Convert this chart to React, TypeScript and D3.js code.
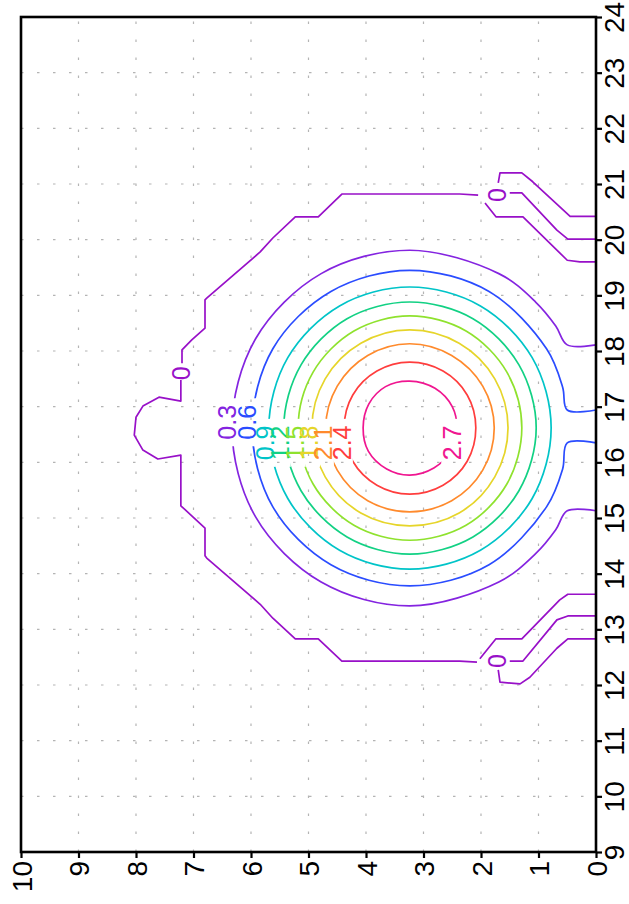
import React, { useRef, useEffect } from 'react';
import * as d3 from 'd3';

const bottomTicks = [0, 1, 2, 3, 4, 5, 6, 7, 8, 9, 10];
const rightTicks = [9, 10, 11, 12, 13, 14, 15, 16, 17, 18, 19, 20, 21, 22, 23, 24];

const levels = ['0', '0.3', '0.6', '0.9', '1.2', '1.5', '1.8', '2.1', '2.4', '2.7'];
const levelColors = ['#9810c8', '#8424e0', '#2a4cff', '#00c4c8', '#12d184', '#8fe22e', '#e6d52a', '#ff8a2c', '#ff3d3d', '#f01690'];

// points are [bottom axis value, right axis value]
// zero level: broken where the "0" labels sit
const zeroPieces = [
  [[0, 19.6], [0.28, 19.6], [0.5, 19.63], [1.27, 20.41], [1.74, 20.41], [1.93, 20.66]],
  [[2.05, 20.8], [2.37, 20.82], [4.42, 20.82], [4.83, 20.41], [5.23, 20.41], [5.62, 20.03], [5.84, 19.78],
    [6.77, 18.95], [6.8, 18.92], [6.8, 18.41], [7.03, 18.2], [7.2, 18.02], [7.2, 17.78]],
  [[7.22, 17.48], [7.22, 17.1], [7.6, 17.17], [7.88, 17.01], [8.0, 16.81], [8.03, 16.49], [7.88, 16.22],
    [7.62, 16.06], [7.22, 16.13], [7.22, 15.22], [7.03, 15.04], [6.8, 14.82], [6.8, 14.32], [6.77, 14.28],
    [5.84, 13.45], [5.62, 13.2], [5.23, 12.83], [4.83, 12.83], [4.42, 12.43], [2.37, 12.43], [2.07, 12.41]],
  [[2.02, 12.47], [1.74, 12.83], [1.29, 12.83], [0.63, 13.53], [0.49, 13.63], [0, 13.63]],
  [[0, 20.42], [0.45, 20.42], [1.1, 21.04], [1.29, 21.2], [1.67, 21.2], [1.7, 21.02]],
  [[1.5, 20.84], [1.29, 20.84], [0.68, 20.17], [0.49, 20.01], [0, 20.01]],
  [[0, 13.24], [0.49, 13.24], [0.68, 13.17], [1.27, 12.43], [1.5, 12.43]],
  [[1.7, 12.27], [1.67, 12.05], [1.32, 12.02], [1.15, 12.14], [0.68, 12.66], [0.49, 12.83], [0, 12.83]],
];
const zeroLabelPos = [[1.72, 20.8], [7.21, 17.6], [1.72, 12.43]];

const ring03 = [[0, 18.11], [0.5, 18.11], [0.7, 18.45], [1.05, 18.88], [1.69, 19.39], [3.24, 19.81], [4.78, 19.39],
  [5.92, 18.22], [6.33, 16.62], [5.92, 15.02], [4.78, 13.85], [3.24, 13.42], [1.69, 13.85], [1.05, 14.36],
  [0.7, 14.79], [0.5, 15.13], [0, 15.13]];
const ring06 = [[0, 16.94], [0.5, 16.94], [0.58, 17.35], [0.86, 18.04], [1.86, 19.07], [3.24, 19.45], [4.61, 19.07],
  [5.62, 18.04], [5.98, 16.62], [5.62, 15.2], [4.61, 14.16], [3.24, 13.78], [1.86, 14.16], [0.86, 15.2],
  [0.58, 15.88], [0.5, 16.35], [0, 16.35]];
const ring09 = [[0.78, 16.62], [1.11, 17.88], [2.01, 18.81], [3.24, 19.15], [4.46, 18.81], [5.36, 17.88],
  [5.69, 16.62], [5.36, 15.35], [4.46, 14.42], [3.24, 14.08], [2.01, 14.42], [1.11, 15.35]];
const ring12 = [[1.04, 16.62], [1.34, 17.75], [2.14, 18.58], [3.24, 18.88], [4.33, 18.58], [5.13, 17.75],
  [5.43, 16.62], [5.13, 15.49], [4.33, 14.66], [3.24, 14.35], [2.14, 14.66], [1.34, 15.49]];
const ring15 = [[1.29, 16.62], [1.55, 17.62], [2.26, 18.36], [3.24, 18.63], [4.21, 18.36], [4.92, 17.62],
  [5.18, 16.62], [4.92, 15.61], [4.21, 14.87], [3.24, 14.6], [2.26, 14.87], [1.55, 15.61]];
const ring18 = [[1.53, 16.62], [1.76, 17.5], [2.38, 18.14], [3.24, 18.38], [4.09, 18.14], [4.71, 17.5],
  [4.94, 16.62], [4.71, 15.74], [4.09, 15.09], [3.24, 14.86], [2.38, 15.09], [1.76, 15.74]];
const ring21 = [[1.77, 16.62], [1.97, 17.37], [2.51, 17.92], [3.24, 18.13], [3.97, 17.92], [4.5, 17.37],
  [4.7, 16.62], [4.5, 15.86], [3.97, 15.31], [3.24, 15.11], [2.51, 15.31], [1.97, 15.86]];
const ring24 = [[2.09, 16.62], [2.24, 17.21], [2.66, 17.64], [3.24, 17.8], [3.81, 17.64], [4.23, 17.21],
  [4.38, 16.62], [4.23, 16.02], [3.81, 15.59], [3.24, 15.43], [2.66, 15.59], [2.24, 16.02]];
const ring27 = [[2.42, 16.62], [2.5, 17.0], [2.8, 17.33], [3.24, 17.46], [3.66, 17.36], [3.95, 17.05],
  [4.05, 16.62], [3.96, 16.2], [3.64, 15.88], [3.24, 15.77], [2.82, 15.9], [2.52, 16.2]];

const rings = [ring03, ring06, ring09, ring12, ring15, ring18, ring21, ring24, ring27];
const ringOpen = [true, true, false, false, false, false, false, false, false];
const ringLabelPos = [[6.42, 16.72], [6.07, 16.72], [5.76, 16.35], [5.5, 16.35], [5.24, 16.35],
  [4.99, 16.35], [4.75, 16.35], [4.42, 16.35], [2.5, 16.35]];

const font = "'Liberation Sans', Arial, sans-serif";

function App() {
  const svgRef = useRef(null);

  useEffect(() => {
    const svg = d3.select(svgRef.current);
    svg.selectAll('*').remove();

    const left = 21, right = 596, top = 17, bottom = 852;
    const x = d3.scaleLinear().domain([10, 0]).range([left, right]);
    const y = d3.scaleLinear().domain([9, 24]).range([bottom, top]);

    svg.append('rect').attr('width', 629).attr('height', 904).attr('fill', '#fff');

    // dotted grid
    svg.append('g').selectAll('line').data(rightTicks.slice(1, -1)).join('line')
      .attr('x1', left).attr('x2', right)
      .attr('y1', (d) => y(d)).attr('y2', (d) => y(d))
      .attr('stroke', '#b4b4b4').attr('stroke-width', 1.2).attr('stroke-dasharray', '2.5 13.5');
    svg.append('g').selectAll('line').data(bottomTicks.slice(1, -1)).join('line')
      .attr('y1', bottom).attr('y2', top)
      .attr('x1', (d) => x(d)).attr('x2', (d) => x(d))
      .attr('stroke', '#b4b4b4').attr('stroke-width', 1.2).attr('stroke-dasharray', '2.5 15.5');

    // masks cut the line where its label sits
    const defs = svg.append('defs');
    rings.forEach((r, i) => {
      const [lu, lv] = ringLabelPos[i];
      const m = defs.append('mask').attr('id', 'm' + i).attr('maskUnits', 'userSpaceOnUse')
        .attr('x', 0).attr('y', 0).attr('width', 629).attr('height', 904);
      m.append('rect').attr('width', 629).attr('height', 904).attr('fill', '#fff');
      m.append('rect').attr('x', x(lu) - 11).attr('y', y(lv) - 24)
        .attr('width', 22).attr('height', 48).attr('fill', '#000');
    });

    const straight = d3.line().x((d) => x(d[0])).y((d) => y(d[1]));
    const smoothOpen = d3.line().x((d) => x(d[0])).y((d) => y(d[1])).curve(d3.curveCatmullRom.alpha(0.5));
    const smoothClosed = d3.line().x((d) => x(d[0])).y((d) => y(d[1])).curve(d3.curveCatmullRomClosed.alpha(0.5));

    const plot = svg.append('g').attr('fill', 'none').attr('stroke-width', 1.7).attr('stroke-linejoin', 'round');

    plot.selectAll('.zero').data(zeroPieces).join('path')
      .attr('class', 'zero')
      .attr('d', (d) => straight(d))
      .attr('stroke', levelColors[0]);

    plot.selectAll('.ring').data(rings).join('path')
      .attr('class', 'ring')
      .attr('d', (d, i) => (ringOpen[i] ? smoothOpen(d) : smoothClosed(d)))
      .attr('stroke', (d, i) => levelColors[i + 1])
      .attr('mask', (d, i) => `url(#m${i})`);

    const labels = svg.append('g').attr('font-family', font).attr('font-size', 25)
      .attr('text-anchor', 'middle').attr('dominant-baseline', 'central');

    labels.selectAll('.zl').data(zeroLabelPos).join('text')
      .attr('class', 'zl')
      .attr('transform', (d) => `translate(${x(d[0])},${y(d[1])}) rotate(-90)`)
      .attr('fill', levelColors[0])
      .text(levels[0]);

    labels.selectAll('.rl').data(ringLabelPos).join('text')
      .attr('class', 'rl')
      .attr('transform', (d) => `translate(${x(d[0])},${y(d[1])}) rotate(-90)`)
      .attr('fill', (d, i) => levelColors[i + 1])
      .text((d, i) => levels[i + 1]);

    // frame
    svg.append('rect').attr('x', left).attr('y', top)
      .attr('width', right - left).attr('height', bottom - top)
      .attr('fill', 'none').attr('stroke', '#000').attr('stroke-width', 2.6);

    const xAxis = d3.axisBottom(x).tickValues(bottomTicks).tickSize(6).tickSizeOuter(0).tickFormat(d3.format('d'));
    const gx = svg.append('g').attr('transform', `translate(0,${bottom})`).call(xAxis);
    gx.select('.domain').remove();
    gx.selectAll('line').attr('stroke', '#000').attr('stroke-width', 2.2);
    gx.selectAll('text')
      .attr('x', null).attr('y', null).attr('dy', null)
      .attr('transform', 'translate(10,9) rotate(-90)')
      .attr('text-anchor', 'end')
      .attr('font-family', font).attr('font-size', 28).attr('fill', '#000');

    const yAxis = d3.axisRight(y).tickValues(rightTicks).tickSize(6).tickSizeOuter(0).tickFormat(d3.format('d'));
    const gy = svg.append('g').attr('transform', `translate(${right},0)`).call(yAxis);
    gy.select('.domain').remove();
    gy.selectAll('line').attr('stroke', '#000').attr('stroke-width', 2.2);
    gy.selectAll('text')
      .attr('x', null).attr('y', null).attr('dy', null)
      .attr('transform', 'translate(28,0) rotate(-90)')
      .attr('text-anchor', 'middle')
      .attr('font-family', font).attr('font-size', 28).attr('fill', '#000');
  }, []);

  return (
    <svg ref={svgRef} width={629} height={904}
      style={{ position: 'absolute', left: 0, top: 0, display: 'block' }} />
  );
}

export default App;
